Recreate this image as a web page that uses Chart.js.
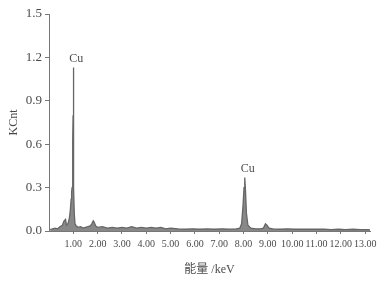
<!DOCTYPE html>
<html>
<head>
<meta charset="utf-8">
<script src="https://cdn.jsdelivr.net/npm/chart.js@4"></script>
<style>
  html, body { margin: 0; padding: 0; background: #fff; }
  #wrap { width: 383px; height: 282px; }
</style>
</head>
<body>
<div id="wrap"><canvas id="eds"></canvas></div>
<script>
// spectrum (keV / KCnt)
const energy = [
  0.05, 0.15, 0.25, 0.35, 0.45, 0.55, 0.62, 0.68, 0.72, 0.78,
  0.84, 0.88, 0.91, 0.93, 0.95, 0.97, 0.98, 0.99, 1.0, 1.01,
  1.02, 1.04, 1.07, 1.12, 1.2, 1.3, 1.4, 1.5, 1.6, 1.7,
  1.76, 1.82, 1.86, 1.92, 2.0, 2.2, 2.4, 2.6, 2.8, 3.0,
  3.2, 3.4, 3.6, 3.8, 4.0, 4.2, 4.4, 4.6, 4.8, 5.0,
  5.3, 5.6, 5.9, 6.2, 6.5, 6.8, 7.1, 7.4, 7.7, 7.85,
  7.92, 7.98, 8.02, 8.05, 8.08, 8.12, 8.18, 8.3, 8.5, 8.7,
  8.82, 8.9, 8.96, 9.05, 9.2, 9.5, 9.8, 10.1, 10.4, 10.7,
  11.0, 11.3, 11.6, 11.9, 12.2, 12.5, 12.8, 13.1, 13.2
];
const counts = [
  0.01, 0.015, 0.02, 0.015, 0.03, 0.04, 0.07, 0.08, 0.04, 0.05,
  0.09, 0.15, 0.22, 0.27, 0.3, 0.42, 0.62, 0.8, 1.13, 0.72,
  0.3, 0.12, 0.05, 0.035, 0.025, 0.03, 0.02, 0.025, 0.03, 0.035,
  0.05, 0.07, 0.06, 0.035, 0.025, 0.03, 0.02, 0.025, 0.02, 0.025,
  0.02, 0.03, 0.02, 0.025, 0.02, 0.025, 0.02, 0.025, 0.015, 0.02,
  0.015, 0.012, 0.015, 0.012, 0.014, 0.012, 0.015, 0.013, 0.015, 0.02,
  0.05, 0.18, 0.3, 0.37, 0.28, 0.12, 0.04, 0.02, 0.015, 0.015,
  0.02, 0.05, 0.04, 0.02, 0.015, 0.012, 0.015, 0.012, 0.013, 0.012,
  0.012, 0.013, 0.01, 0.012, 0.01, 0.012, 0.01, 0.01, 0.008
];

const peakLabels = ['Cu', 'Cu'];
const peakEnergies = [1.0, 8.05];
const peakCounts = [1.13, 0.37];

const xTicks = [1, 2, 3, 4, 5, 6, 7, 8, 9, 10, 11, 12, 13];
const yTicks = [0, 0.3, 0.6, 0.9, 1.2, 1.5];

const inkText = '#4a4a4a';
const inkAxis = '#777';
const serif = '"Liberation Serif", "Noto Sans CJK SC", serif';

const peakLabelPlugin = {
  id: 'peakLabels',
  afterDatasetsDraw(chart) {
    const { ctx, scales } = chart;
    ctx.save();
    ctx.fillStyle = inkText;
    ctx.font = '12px ' + serif;
    ctx.textAlign = 'center';
    ctx.textBaseline = 'bottom';
    peakLabels.forEach((txt, i) => {
      const px = scales.x.getPixelForValue(peakEnergies[i]) + 3;
      const py = scales.y.getPixelForValue(peakCounts[i]) - 3;
      ctx.fillText(txt, px, py);
    });
    ctx.restore();
  }
};

new Chart(document.getElementById('eds'), {
  type: 'line',
  data: {
    datasets: [{
      data: energy.map((e, i) => ({ x: e, y: counts[i] })),
      borderColor: '#666',
      borderWidth: 1.3,
      backgroundColor: '#888',
      fill: 'origin',
      pointRadius: 0,
      tension: 0
    }]
  },
  plugins: [peakLabelPlugin],
  options: {
    responsive: true,
    maintainAspectRatio: false,
    animation: false,
    layout: { padding: { top: 14, right: 13, left: 0, bottom: 0 } },
    plugins: { legend: { display: false }, tooltip: { enabled: false } },
    scales: {
      x: {
        type: 'linear',
        min: 0,
        max: 13.2,
        afterBuildTicks: s => { s.ticks = xTicks.map(v => ({ value: v })); },
        afterFit: s => { s.height = 51; },
        grid: { drawOnChartArea: false, drawTicks: true, tickLength: 3, color: inkAxis },
        border: { display: true, color: inkAxis, width: 1 },
        ticks: {
          autoSkip: false,
          maxRotation: 0,
          padding: 4,
          color: inkText,
          font: { family: serif, size: 10 },
          callback: v => v.toFixed(2)
        },
        title: {
          display: true,
          text: '能量 /keV',
          color: inkText,
          font: { family: serif, size: 12 },
          padding: { top: 0, bottom: 5 }
        }
      },
      y: {
        min: 0,
        max: 1.5,
        afterBuildTicks: s => { s.ticks = yTicks.map(v => ({ value: v })); },
        afterFit: s => { s.width = 49; },
        grid: { drawOnChartArea: false, drawTicks: true, tickLength: 4, color: inkAxis },
        border: { display: true, color: inkAxis, width: 1 },
        ticks: {
          padding: 3,
          color: inkText,
          font: { family: serif, size: 13 },
          callback: v => v.toFixed(1)
        },
        title: {
          display: true,
          text: 'KCnt',
          color: inkText,
          font: { family: serif, size: 12 },
          padding: { top: 7, bottom: 0 }
        }
      }
    }
  }
});
</script>
</body>
</html>
